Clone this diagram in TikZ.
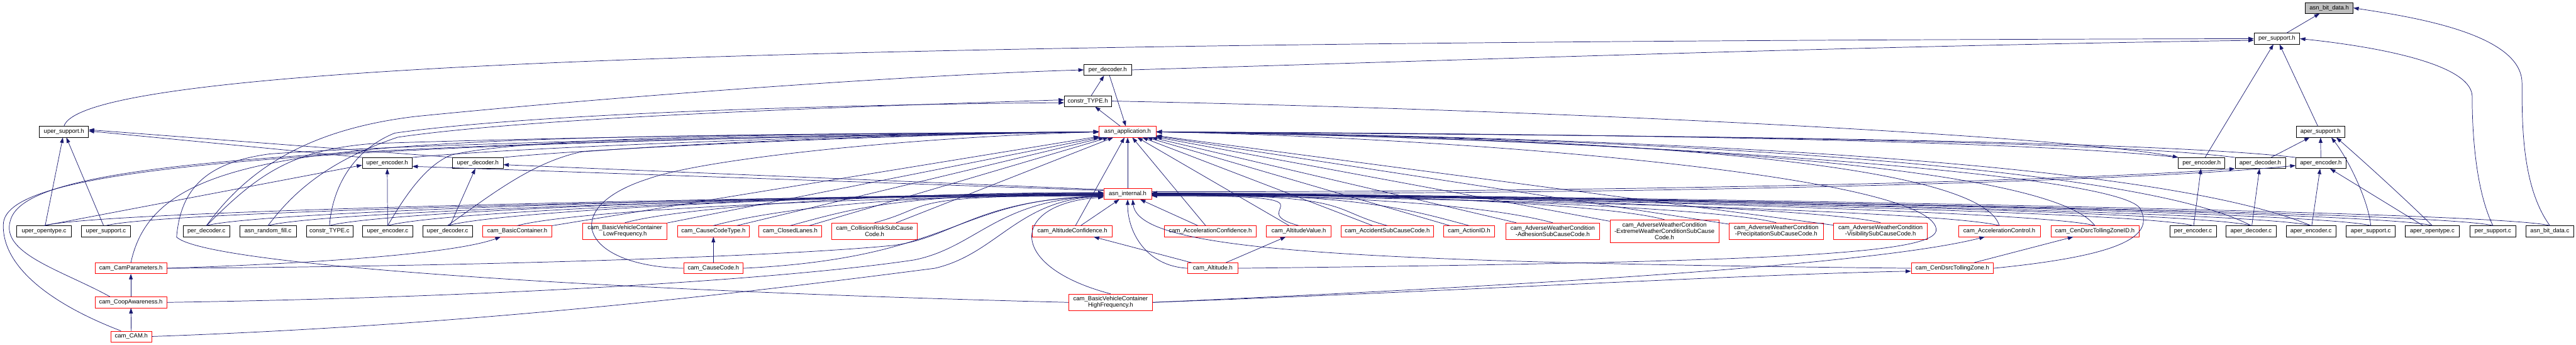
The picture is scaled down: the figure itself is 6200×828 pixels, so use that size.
\documentclass[tikz,border=0pt]{standalone}
\usepackage{fontspec}
\setmainfont{Liberation Sans}
\usetikzlibrary{arrows.meta}
\definecolor{edgeblue}{HTML}{191970}
\definecolor{rootgray}{HTML}{BFBFBF}

\begin{document}
\begin{tikzpicture}[
    x=1pt, y=-1pt,
    file/.style={draw=black, line width=1.1pt, fill=white, align=center, inner sep=2pt, minimum height=26pt, font=\fontsize{14.4}{15}\selectfont},
    redfile/.style={file, draw=red},
    rootfile/.style={file, fill=rootgray},
    edge/.style={draw=edgeblue, line width=1.1pt, -{Triangle[length=13pt,width=9pt]}}
]
\useasboundingbox (0,0) rectangle (6200,828);

% upper part
\node[rootfile, minimum width=115pt] (bitdatah) at (5606,19) {asn\_bit\_data.h};
\node[file, minimum width=110pt] (persuph) at (5480,93) {per\_support.h};
\node[file, minimum width=117pt] (apersuph) at (5585,317) {aper\_support.h};
\node[file, minimum width=112pt] (perench) at (5299,392) {per\_encoder.h};
\node[file, minimum width=121pt] (aperdech) at (5440,392) {aper\_decoder.h};
\node[file, minimum width=121pt] (aperench) at (5586,392) {aper\_encoder.h};
\node[file, minimum width=114pt] (perdech) at (2666,168) {per\_decoder.h};
\node[file, minimum width=113pt] (constrh) at (2618,243) {constr\_TYPE.h};
\node[redfile, minimum width=137pt] (apph) at (2714,317) {asn\_application.h};
\node[file, minimum width=118pt] (upersuph) at (154,317) {uper\_support.h};
\node[file, minimum width=120pt] (uperench) at (932,392) {uper\_encoder.h};
\node[file, minimum width=122pt] (uperdech) at (1150,392) {uper\_decoder.h};
\node[redfile, minimum width=115pt] (internalh) at (2714,466) {asn\_internal.h};

% main row
\node[file, minimum width=131pt] (uperopenc) at (106,556) {uper\_opentype.c};
\node[file, minimum width=118pt] (upersupc) at (255,556) {uper\_support.c};
\node[file, minimum width=112pt] (perdecc) at (497,556) {per\_decoder.c};
\node[file, minimum width=136pt] (randfillc) at (645,556) {asn\_random\_fill.c};
\node[file, minimum width=112pt] (constrc) at (793,556) {constr\_TYPE.c};
\node[file, minimum width=120pt] (uperencc) at (933,556) {uper\_encoder.c};
\node[file, minimum width=120pt] (uperdecc) at (1077,556) {uper\_decoder.c};
\node[redfile, minimum width=167pt] (basicconth) at (1245,556) {cam\_BasicContainer.h};
\node[redfile, minimum width=203pt, minimum height=40pt] (lowfreqh) at (1504,556) {cam\_BasicVehicleContainer\\LowFrequency.h};
\node[redfile, minimum width=172pt] (causetypeh) at (1717,556) {cam\_CauseCodeType.h};
\node[redfile, minimum width=152pt] (closedh) at (1902,556) {cam\_ClosedLanes.h};
\node[redfile, minimum width=206pt, minimum height=40pt] (collisionh) at (2105,556) {cam\_CollisionRiskSubCause\\Code.h};
\node[redfile, minimum width=192pt] (altconfh) at (2581,556) {cam\_AltitudeConfidence.h};
\node[redfile, minimum width=222pt] (accconfh) at (2913,556) {cam\_AccelerationConfidence.h};
\node[redfile, minimum width=156pt] (altvalh) at (3126,556) {cam\_AltitudeValue.h};
\node[redfile, minimum width=222pt] (accidenth) at (3339,556) {cam\_AccidentSubCauseCode.h};
\node[redfile, minimum width=123pt] (actionh) at (3536,556) {cam\_ActionID.h};
\node[redfile, minimum width=226pt, minimum height=40pt] (adhesionh) at (3737,556) {cam\_AdverseWeatherCondition\\-AdhesionSubCauseCode.h};
\node[redfile, minimum width=262pt, minimum height=55pt] (extremeh) at (4006,556) {cam\_AdverseWeatherCondition\\-ExtremeWeatherConditionSubCause\\Code.h};
\node[redfile, minimum width=227pt, minimum height=40pt] (preciph) at (4275,556) {cam\_AdverseWeatherCondition\\-PrecipitationSubCauseCode.h};
\node[redfile, minimum width=226pt, minimum height=40pt] (visibh) at (4526,556) {cam\_AdverseWeatherCondition\\-VisibilitySubCauseCode.h};
\node[redfile, minimum width=197pt] (accctrlh) at (4812,556) {cam\_AccelerationControl.h};
\node[redfile, minimum width=212pt] (zoneidh) at (5042,556) {cam\_CenDsrcTollingZoneID.h};
\node[file, minimum width=112pt] (perencc) at (5278,556) {per\_encoder.c};
\node[file, minimum width=120pt] (aperdecc) at (5418,556) {aper\_decoder.c};
\node[file, minimum width=120pt] (aperencc) at (5562,556) {aper\_encoder.c};
\node[file, minimum width=118pt] (apersupc) at (5706,556) {aper\_support.c};
\node[file, minimum width=130pt] (aperopenc) at (5854,556) {aper\_opentype.c};
\node[file, minimum width=111pt] (persupc) at (6000,556) {per\_support.c};
\node[file, minimum width=116pt] (bitdatac) at (6137,556) {asn\_bit\_data.c};

% lower part
\node[redfile, minimum width=173pt] (camparamsh) at (315,645) {cam\_CamParameters.h};
\node[redfile, minimum width=173pt] (coopawh) at (315,727) {cam\_CoopAwareness.h};
\node[redfile, minimum width=98pt] (camh) at (316,809) {cam\_CAM.h};
\node[redfile, minimum width=143pt] (causecodeh) at (1717,645) {cam\_CauseCode.h};
\node[redfile, minimum width=120pt] (altitudeh) at (2919,645) {cam\_Altitude.h};
\node[redfile, minimum width=202pt, minimum height=40pt] (highfreqh) at (2673,727) {cam\_BasicVehicleContainer\\HighFrequency.h};
\node[redfile, minimum width=198pt] (tollzoneh) at (4699,645) {cam\_CenDsrcTollingZone.h};

% per / aper / uper support chain
\draw[edge] (persuph) -- (bitdatah);
\draw[edge] (bitdatac.north) .. controls (6070,450) and (6070,300) .. (6070,200) .. controls (6070,80) and (5800,40) .. (bitdatah.east);
\draw[edge] (persupc.north) .. controls (5955,450) and (5950,300) .. (5950,230) .. controls (5945,150) and (5700,110) .. (persuph.east);
\draw[edge] (perench) -- (persuph);
\draw[edge] (apersuph) -- (persuph);
\draw[edge] (perdech.east) .. controls (3500,145) and (4500,110) .. ([yshift=-4pt]persuph.west);
\draw[edge] (upersuph.north) .. controls (200,150) and (2000,100) .. (persuph.west);
\draw[edge] (constrh) -- (perdech);
\draw[edge] (perdech) -- (apph);
\draw[edge] (apph) -- (constrh);
\draw[edge] (constrh.east) .. controls (3800,265) and (5000,330) .. (perench.north west);
\draw[edge] (aperdech) -- (apersuph);
\draw[edge] (aperench) -- (apersuph);
\draw[edge] (apersupc.north) .. controls (5700,480) and (5650,380) .. ([xshift=26pt]apersuph.south);
\draw[edge] (aperopenc.north) .. controls (5780,470) and (5680,380) .. ([xshift=38pt]apersuph.south);
\draw[edge] (aperopenc) -- (aperench);
\draw[edge] (aperencc) -- (aperench);
\draw[edge] (aperdecc) -- (aperdech);
\draw[edge] (perencc) -- (perench);
\draw[edge] (uperench.north west) -- ([yshift=2pt]upersuph.east);
\draw[edge] (uperdech.north west) -- ([yshift=5pt]upersuph.east);
\draw[edge] (uperopenc) -- (upersuph);
\draw[edge] (upersupc) -- (upersuph);
\draw[edge] (uperopenc.north) -- ([yshift=-5pt]uperench.west);
\draw[edge] (uperencc) -- (uperench);
\draw[edge] (uperdecc) -- (uperdech);
\draw[edge] ([yshift=8pt]internalh.west) -- ([yshift=-8pt]uperench.east);
\draw[edge] ([yshift=10pt]internalh.west) -- ([yshift=-4pt]uperdech.east);
\draw[edge] ([yshift=5pt]internalh.east) .. controls (3800,462) and (4900,440) .. (aperdech.south west);
\draw[edge] ([yshift=2pt]internalh.east) .. controls (3800,470) and (5100,440) .. ([yshift=-6pt]aperench.west);
\draw[edge] (internalh) -- (apph);

% includes of asn_application.h
\foreach \n in {basicconth,lowfreqh,causetypeh,closedh,collisionh,altconfh,accconfh,altvalh,accidenth,actionh,adhesionh,extremeh,preciph,visibh}
  \draw[edge] (\n) -- (apph);
\draw[edge] (uperench.north east) .. controls (1300,350) and (2200,320) .. (apph.west);
\draw[edge] (uperdech.north east) .. controls (1450,355) and (2200,322) .. (apph.west);
\draw[edge] (uperencc.north) .. controls (970,480) and (1020,400) .. (1085,373) .. controls (1300,320) and (2200,322) .. (apph.west);
\draw[edge] (uperdecc.north) .. controls (1180,470) and (1280,390) .. (1400,365) .. controls (1800,335) and (2300,322) .. (apph.west);
\draw[edge] (perdecc.north) .. controls (620,420) and (700,360) .. (900,345) .. controls (1500,325) and (2200,320) .. (apph.west);
\draw[edge] (perdecc.north) .. controls (600,400) and (750,310) .. (1000,280) .. controls (1500,230) and (2200,180) .. (perdech.west);
\draw[edge] (randfillc.north) .. controls (700,470) and (780,390) .. (957,330) .. controls (1300,280) and (2100,255) .. ([yshift=3pt]constrh.west);
\draw[edge] (constrc.north) .. controls (800,450) and (850,360) .. (950,320) .. controls (1300,270) and (2100,250) .. ([yshift=-4pt]constrh.west);
\draw[edge] (camparamsh.north) .. controls (380,330) and (845,330) .. (apph.west);
\draw[edge] ([xshift=-50pt]coopawh.north) .. controls (150,650) and (0,610) .. (25,530) .. controls (60,400) and (600,345) .. (apph.west);
\draw[edge] ([xshift=-25pt]camh.north) .. controls (120,730) and (5,640) .. (8,540) .. controls (10,420) and (500,345) .. (apph.west);
\draw[edge] (highfreqh.west) .. controls (1500,700) and (500,640) .. (425,570) .. controls (435,450) and (500,390) .. (650,370) .. controls (1000,345) and (2000,322) .. (apph.west);
\draw[edge] (causecodeh.west) .. controls (1400,640) and (1340,500) .. (1560,430) .. controls (1700,380) and (2200,330) .. (apph.west);
\draw[edge] (perench.north west) .. controls (4800,330) and (3500,320) .. (apph.east);
\draw[edge] (aperdech.north west) .. controls (5000,330) and (3500,322) .. (apph.east);
\draw[edge] (aperench.north west) .. controls (5100,330) and (3600,324) .. (apph.east);
\draw[edge] (aperdecc.north) .. controls (5150,400) and (4000,330) .. (apph.east);
\draw[edge] (aperencc.north) .. controls (5200,390) and (4000,330) .. (apph.east);
\draw[edge] (accctrlh.north) .. controls (4770,400) and (4000,330) .. (apph.east);
\draw[edge] (zoneidh.north) .. controls (4950,420) and (4200,340) .. (apph.east);
\draw[edge] (altitudeh.east) .. controls (4300,630) and (4670,610) .. (4660,550) .. controls (4640,420) and (3500,330) .. (apph.east);
\draw[edge] (tollzoneh.east) .. controls (5100,615) and (5190,570) .. (5150,500) .. controls (5080,410) and (3800,330) .. (apph.east);

% includes of asn_internal.h
\foreach \n/\o in {uperopenc/-2,upersupc/-4,perdecc/0,randfillc/-3,constrc/1,uperencc/-1,uperdecc/2,basicconth/-5,lowfreqh/3,causetypeh/-2,closedh/0,collisionh/-4}
  \draw[edge] (\n.north) .. controls +(150,-40) and +(-500,0) .. ([yshift=\o pt]internalh.west);
\foreach \n/\o in {altvalh/-4,accidenth/-2,actionh/0,adhesionh/-3,extremeh/1,preciph/-1,visibh/2,accctrlh/-5,zoneidh/0,perencc/-2,aperdecc/1,aperencc/-1,apersupc/2,aperopenc/0,persupc/-3,bitdatac/1}
  \draw[edge] (\n.north) .. controls +(-150,-40) and +(500,0) .. ([yshift=\o pt]internalh.east);
\draw[edge] (altconfh) -- (internalh);
\draw[edge] (accconfh) -- (internalh);
\draw[edge] (camparamsh.east) .. controls (1200,640) and (1900,615) .. (2150,590) .. controls (2300,570) and (2350,480) .. ([yshift=-6pt]internalh.west);
\draw[edge] (coopawh.east) .. controls (1200,715) and (1900,670) .. (2200,625) .. controls (2350,595) and (2400,480) .. ([yshift=-6pt]internalh.west);
\draw[edge] (camh.east) .. controls (1200,780) and (1900,690) .. (2250,645) .. controls (2400,610) and (2450,480) .. ([yshift=-6pt]internalh.west);
\draw[edge] (causecodeh.east) .. controls (2300,620) and (2300,478) .. ([yshift=-6pt]internalh.west);
\draw[edge] (highfreqh.north) .. controls (2420,640) and (2430,490) .. ([yshift=-8pt]internalh.west);
\draw[edge] (altitudeh.west) .. controls (2760,640) and (2714,560) .. (internalh.south);
\draw[edge] (tollzoneh.west) .. controls (3200,630) and (2740,600) .. ([xshift=12pt]internalh.south);

% cam headers among themselves
\draw[edge] (coopawh) -- (camparamsh);
\draw[edge] (camh) -- (coopawh);
\draw[edge] (camparamsh.east) .. controls (1000,625) and (1150,590) .. ([xshift=-40pt]basicconth.south);
\draw[edge] (causecodeh) -- (causetypeh);
\draw[edge] (altitudeh) -- (altconfh);
\draw[edge] (altitudeh) -- (altvalh);
\draw[edge] (tollzoneh) -- (zoneidh);
\draw[edge] (highfreqh.east) .. controls (3500,700) and (4200,660) .. ([yshift=-7pt]tollzoneh.west);
\draw[edge] (highfreqh.east) .. controls (3600,690) and (4500,640) .. ([xshift=-35pt]accctrlh.south);
\end{tikzpicture}
\end{document}
